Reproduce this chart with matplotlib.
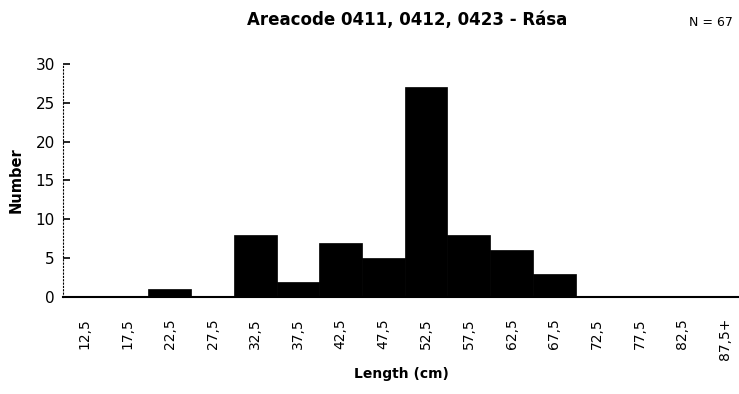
import numpy as np
import matplotlib.pyplot as plt

# length classes (cm) and number of fish in each
length_labels = ["12,5", "17,5", "22,5", "27,5", "32,5", "37,5", "42,5", "47,5",
                 "52,5", "57,5", "62,5", "67,5", "72,5", "77,5", "82,5", "87,5+"]
counts = [0, 0, 1, 0, 8, 2, 7, 5, 27, 8, 6, 3, 0, 0, 0, 0]
y_ticks = [0, 5, 10, 15, 20, 25, 30]

fig = plt.figure(figsize=(7.39, 3.94), dpi=100)
ax = fig.add_axes([0.0853, 0.246, 0.915, 0.592])

x = np.arange(len(counts))
ax.bar(x, counts, width=1.0, color="black", edgecolor="black", linewidth=0.5)

ax.set_xlim(-0.5, 15.33)
ax.set_ylim(0, 30)
ax.set_xticks(x)
ax.set_xticklabels(length_labels, rotation=90, fontsize=10)
ax.set_yticks(y_ticks)
ax.set_yticklabels([str(t) for t in y_ticks], fontsize=11)
ax.tick_params(axis="x", length=0, pad=15)
ax.tick_params(axis="y", direction="in", length=5, width=1.2, pad=6)

for side in ["top", "right"]:
    ax.spines[side].set_visible(False)
ax.spines["left"].set_linestyle((0, (1, 2)))
ax.spines["left"].set_linewidth(0.8)
ax.spines["bottom"].set_linewidth(1.5)

ax.set_xlabel("Length (cm)", fontsize=10, fontweight="bold")
ax.xaxis.set_label_coords(0.5, -0.30)
ax.set_ylabel("Number", fontsize=10.5, fontweight="bold")
ax.yaxis.set_label_coords(-0.059, 0.5)

fig.text(0.551, 0.949, "Areacode 0411, 0412, 0423 - Rása", ha="center", va="center",
         fontsize=12, fontweight="bold")
fig.text(0.962, 0.942, "N = 67", ha="center", va="center", fontsize=9)

fig.savefig("out.png", dpi=100)
